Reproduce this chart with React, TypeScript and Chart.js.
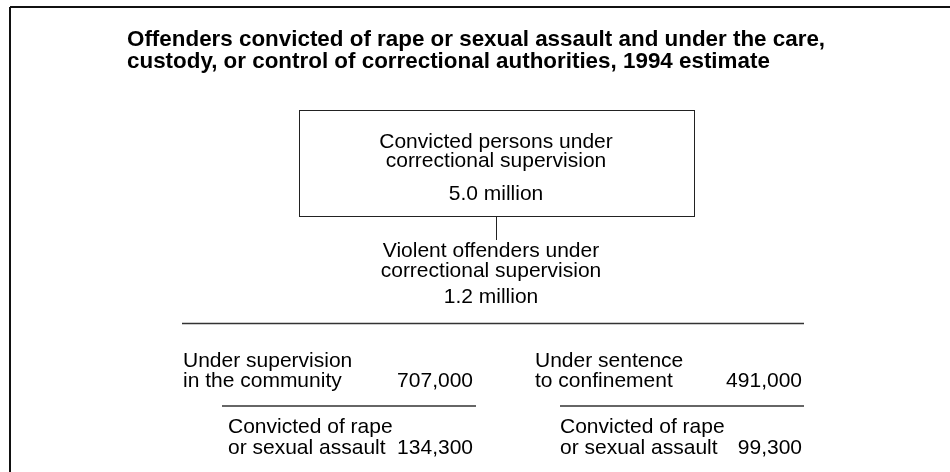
import React, { useEffect, useRef } from "react";
import { Chart, registerables } from "chart.js";

Chart.register(...registerables);

// ---- Data ----
const titleLines = [
  "Offenders convicted of rape or sexual assault and under the care,",
  "custody, or control of correctional authorities, 1994 estimate",
];
const totalLabel = ["Convicted persons under", "correctional supervision"];
const totalMillions = 5.0;
const violentLabel = ["Violent offenders under", "correctional supervision"];
const violentMillions = 1.2;
const branchLabels = [
  ["Under supervision", "in the community"],
  ["Under sentence", "to confinement"],
];
const branchValues = [707000, 491000];
const subLabel = ["Convicted of rape", "or sexual assault"];
const subValues = [134300, 99300];

const W = 950;
const H = 472;
const FONT = "'Liberation Sans', Arial, Helvetica, sans-serif";

const fmt = (v: number) => v.toLocaleString("en-US");

const diagramPlugin = {
  id: "diagram",
  afterDraw(chart: any) {
    const ctx = chart.ctx as CanvasRenderingContext2D;
    const xs = chart.scales.x;
    const ys = chart.scales.y;
    const X = (v: number) => xs.getPixelForValue(v);
    const Y = (v: number) => ys.getPixelForValue(v);

    const line = (x1: number, y1: number, x2: number, y2: number, w: number, c: string) => {
      ctx.save();
      ctx.strokeStyle = c;
      ctx.lineWidth = w;
      ctx.beginPath();
      ctx.moveTo(X(x1), Y(y1));
      ctx.lineTo(X(x2), Y(y2));
      ctx.stroke();
      ctx.restore();
    };
    const text = (s: string, x: number, y: number, align: CanvasTextAlign, font: string) => {
      ctx.save();
      ctx.fillStyle = "#000";
      ctx.font = font;
      ctx.textAlign = align;
      ctx.textBaseline = "alphabetic";
      ctx.fillText(s, X(x), Y(y));
      ctx.restore();
    };

    const normal = `21px ${FONT}`;
    const bold = `bold 22.4px ${FONT}`;

    // frame
    line(10, 7, W, 7, 2, "#111");
    line(10, 7, 10, H, 2, "#111");

    // title
    text(titleLines[0], 127, 46, "left", bold);
    text(titleLines[1], 127, 68, "left", bold);

    // top box
    ctx.save();
    ctx.strokeStyle = "#222";
    ctx.lineWidth = 1;
    ctx.strokeRect(X(299) + 0.5, Y(110) + 0.5, X(694) - X(299), Y(216) - Y(110));
    ctx.restore();
    text(totalLabel[0], 496, 148, "center", normal);
    text(totalLabel[1], 496, 167, "center", normal);
    text(`${totalMillions.toFixed(1)} million`, 496, 200, "center", normal);

    // connector
    line(496.5, 216, 496.5, 240, 1, "#222");

    text(violentLabel[0], 491, 257, "center", normal);
    text(violentLabel[1], 491, 277, "center", normal);
    text(`${violentMillions.toFixed(1)} million`, 491, 303, "center", normal);

    // divider
    line(182, 323.5, 804, 323.5, 1.5, "#333");

    const branchX = [183, 535];
    const numRight = [473, 802];
    const subLineX = [[222, 476], [560, 804]];
    const subX = [228, 560];
    for (let i = 0; i < 2; i++) {
      text(branchLabels[i][0], branchX[i], 367, "left", normal);
      text(branchLabels[i][1], branchX[i], 387, "left", normal);
      text(fmt(branchValues[i]), numRight[i], 387, "right", normal);
      line(subLineX[i][0], 406, subLineX[i][1], 406, 1.5, "#333");
      text(subLabel[0], subX[i], 433, "left", normal);
      text(subLabel[1], subX[i], 454, "left", normal);
      text(fmt(subValues[i]), numRight[i], 454, "right", normal);
    }
  },
};

export default function App() {
  const ref = useRef<HTMLCanvasElement | null>(null);
  useEffect(() => {
    document.body.style.margin = "0";
    const canvas = ref.current!;
    const chart = new Chart(canvas, {
      type: "scatter",
      data: { datasets: [{ data: [], pointRadius: 0 }] },
      options: {
        animation: false,
        responsive: false,
        devicePixelRatio: 1,
        layout: { padding: 0 },
        plugins: { legend: { display: false }, tooltip: { enabled: false }, title: { display: false } },
        scales: {
          x: { type: "linear", min: 0, max: W, display: false },
          y: { type: "linear", min: 0, max: H, reverse: true, display: false },
        },
      },
      plugins: [diagramPlugin],
    });
    return () => chart.destroy();
  }, []);
  return (
    <div style={{ width: W, height: H, background: "#fff" }}>
      <canvas ref={ref} width={W} height={H} style={{ display: "block" }} />
    </div>
  );
}
